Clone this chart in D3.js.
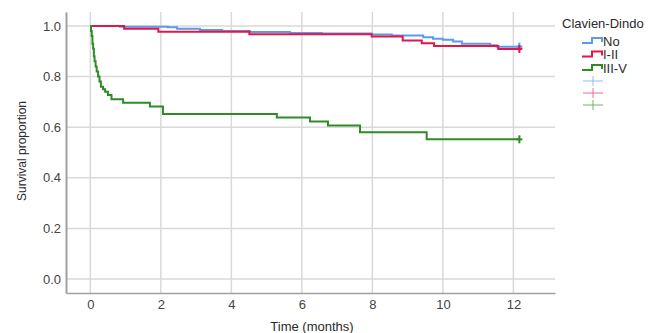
<!DOCTYPE html>
<html>
<head>
<meta charset="utf-8">
<script src="https://cdn.jsdelivr.net/npm/d3@7"></script>
<style>
  body { margin: 0; background: #fff; }
  text { font-family: "Liberation Sans", Arial, sans-serif; }
</style>
</head>
<body>
<div id="chart"></div>
<script>
// Kaplan-Meier step points (time in months, survival proportion)
const groups = ["No", "I-II", "III-V"];
const colors = ["#5b9be8", "#e3164a", "#2f8c25"];
const crossColors = ["#8fbcf2", "#ee6f8c", "#6fb366"];

const noTimes = [0, 0.84, 2.2, 2.46, 3.11, 3.74, 4.53, 5.66, 6.57, 7.98, 8.55, 9.44, 9.72, 10.0, 10.29, 10.54, 11.34, 11.53, 12.17];
const noSurv  = [1.0, 0.997, 0.995, 0.989, 0.984, 0.980, 0.976, 0.972, 0.970, 0.966, 0.962, 0.955, 0.949, 0.945, 0.938, 0.930, 0.924, 0.918, 0.918];

const lowTimes = [0, 0.96, 1.93, 4.51, 7.98, 8.86, 9.40, 9.75, 11.57, 12.17];
const lowSurv  = [1.0, 0.989, 0.977, 0.967, 0.958, 0.942, 0.932, 0.921, 0.909, 0.909];

const highTimes = [0, 0.02, 0.04, 0.06, 0.08, 0.10, 0.12, 0.15, 0.18, 0.22, 0.26, 0.30, 0.36, 0.42, 0.50, 0.60, 0.93, 1.69, 2.06, 5.29, 6.23, 6.74, 7.65, 9.54, 12.17];
const highSurv  = [1.0, 0.98, 0.96, 0.93, 0.91, 0.88, 0.86, 0.84, 0.82, 0.80, 0.78, 0.76, 0.75, 0.74, 0.727, 0.71, 0.697, 0.682, 0.652, 0.638, 0.622, 0.607, 0.58, 0.552, 0.552];

const xTicks = [0, 2, 4, 6, 8, 10, 12];
const yTicks = [0, 0.2, 0.4, 0.6, 0.8, 1.0];

const series = [
  { name: groups[0], t: noTimes, s: noSurv },
  { name: groups[1], t: lowTimes, s: lowSurv },
  { name: groups[2], t: highTimes, s: highSurv }
];

// --- SVG setup ---
const width = 659, height = 333;
const margin = { top: 12, right: 104, bottom: 40, left: 66 };

const svg = d3.select("#chart")
  .append("svg")
  .attr("width", width)
  .attr("height", height);

// --- SCALES ---
const x = d3.scaleLinear()
  .domain([-0.69, 13.18])
  .range([margin.left, width - margin.right]);

const y = d3.scaleLinear()
  .domain([-0.055, 1.055])
  .range([height - margin.bottom, margin.top]);

// --- GRID ---
svg.append("g")
  .selectAll("line")
  .data(yTicks)
  .enter()
  .append("line")
  .attr("x1", margin.left)
  .attr("x2", width - margin.right)
  .attr("y1", d => y(d))
  .attr("y2", d => y(d))
  .attr("stroke", "#d9d9d9")
  .attr("stroke-width", 1.5);

svg.append("g")
  .selectAll("line")
  .data(xTicks)
  .enter()
  .append("line")
  .attr("x1", d => x(d))
  .attr("x2", d => x(d))
  .attr("y1", margin.top)
  .attr("y2", height - margin.bottom)
  .attr("stroke", "#d9d9d9")
  .attr("stroke-width", 1.5);

// --- AXES ---
const xAxis = svg.append("g")
  .attr("transform", `translate(0,${height - margin.bottom})`)
  .call(d3.axisBottom(x).tickValues(xTicks).tickSize(0).tickPadding(7));
xAxis.select(".domain").attr("stroke", "#a0a0a0").attr("stroke-width", 1.5);
xAxis.selectAll("text")
  .style("font-size", "13px")
  .style("fill", "#444");

const yAxis = svg.append("g")
  .attr("transform", `translate(${margin.left},0)`)
  .call(d3.axisLeft(y).tickValues(yTicks).tickFormat(d3.format(".1f")).tickSize(0).tickPadding(5));
yAxis.select(".domain").attr("stroke", "#a0a0a0").attr("stroke-width", 2);
yAxis.selectAll("text")
  .style("font-size", "13px")
  .style("fill", "#444");

// --- CURVES ---
const line = d3.line()
  .x(d => x(d[0]))
  .y(d => y(d[1]))
  .curve(d3.curveStepAfter);

series.forEach((sr, i) => {
  const pts = sr.t.map((t, j) => [t, sr.s[j]]);
  svg.append("path")
    .attr("d", line(pts))
    .attr("fill", "none")
    .attr("stroke", colors[i])
    .attr("stroke-width", 2);

  // censor mark (+) at end of follow-up
  const last = pts[pts.length - 1];
  svg.append("line")
    .attr("x1", x(last[0]))
    .attr("x2", x(last[0]))
    .attr("y1", y(last[1]) - 4)
    .attr("y2", y(last[1]) + 4)
    .attr("stroke", colors[i])
    .attr("stroke-width", 2);
  svg.append("line")
    .attr("x1", x(last[0]) - 3)
    .attr("x2", x(last[0]) + 3)
    .attr("y1", y(last[1]))
    .attr("y2", y(last[1]))
    .attr("stroke", colors[i])
    .attr("stroke-width", 2);
});

// --- AXIS LABELS ---
svg.append("text")
  .attr("x", 312)
  .attr("y", 331)
  .attr("text-anchor", "middle")
  .style("font-size", "13px")
  .style("fill", "#2a2a2a")
  .text("Time (months)");

svg.append("text")
  .attr("transform", "rotate(-90)")
  .attr("x", -151)
  .attr("y", 26)
  .attr("text-anchor", "middle")
  .style("font-size", "12px")
  .style("fill", "#2a2a2a")
  .text("Survival proportion");

// --- LEGEND ---
const legend = svg.append("g")
  .attr("transform", "translate(562, 0)");

legend.append("text")
  .attr("x", 0)
  .attr("y", 28)
  .style("font-size", "13px")
  .style("fill", "#2a2a2a")
  .text("Clavien-Dindo");

const legendY = [41, 54.5, 68];
groups.forEach((g, i) => {
  const cy = legendY[i];
  legend.append("path")
    .attr("d", `M20,${cy + 2}H30V${cy - 3}H40V${cy + 1}`)
    .attr("fill", "none")
    .attr("stroke", colors[i])
    .attr("stroke-width", 2);
  legend.append("text")
    .attr("x", 41)
    .attr("y", cy + 4.5)
    .style("font-size", "13px")
    .style("fill", "#2a2a2a")
    .text(g);
});

const crossY = [81, 93, 105];
crossColors.forEach((c, i) => {
  legend.append("line")
    .attr("x1", 21).attr("x2", 41)
    .attr("y1", crossY[i]).attr("y2", crossY[i])
    .attr("stroke", c).attr("stroke-width", 1);
  legend.append("line")
    .attr("x1", 31).attr("x2", 31)
    .attr("y1", crossY[i] - 5).attr("y2", crossY[i] + 5)
    .attr("stroke", c).attr("stroke-width", 1);
});
</script>
</body>
</html>
